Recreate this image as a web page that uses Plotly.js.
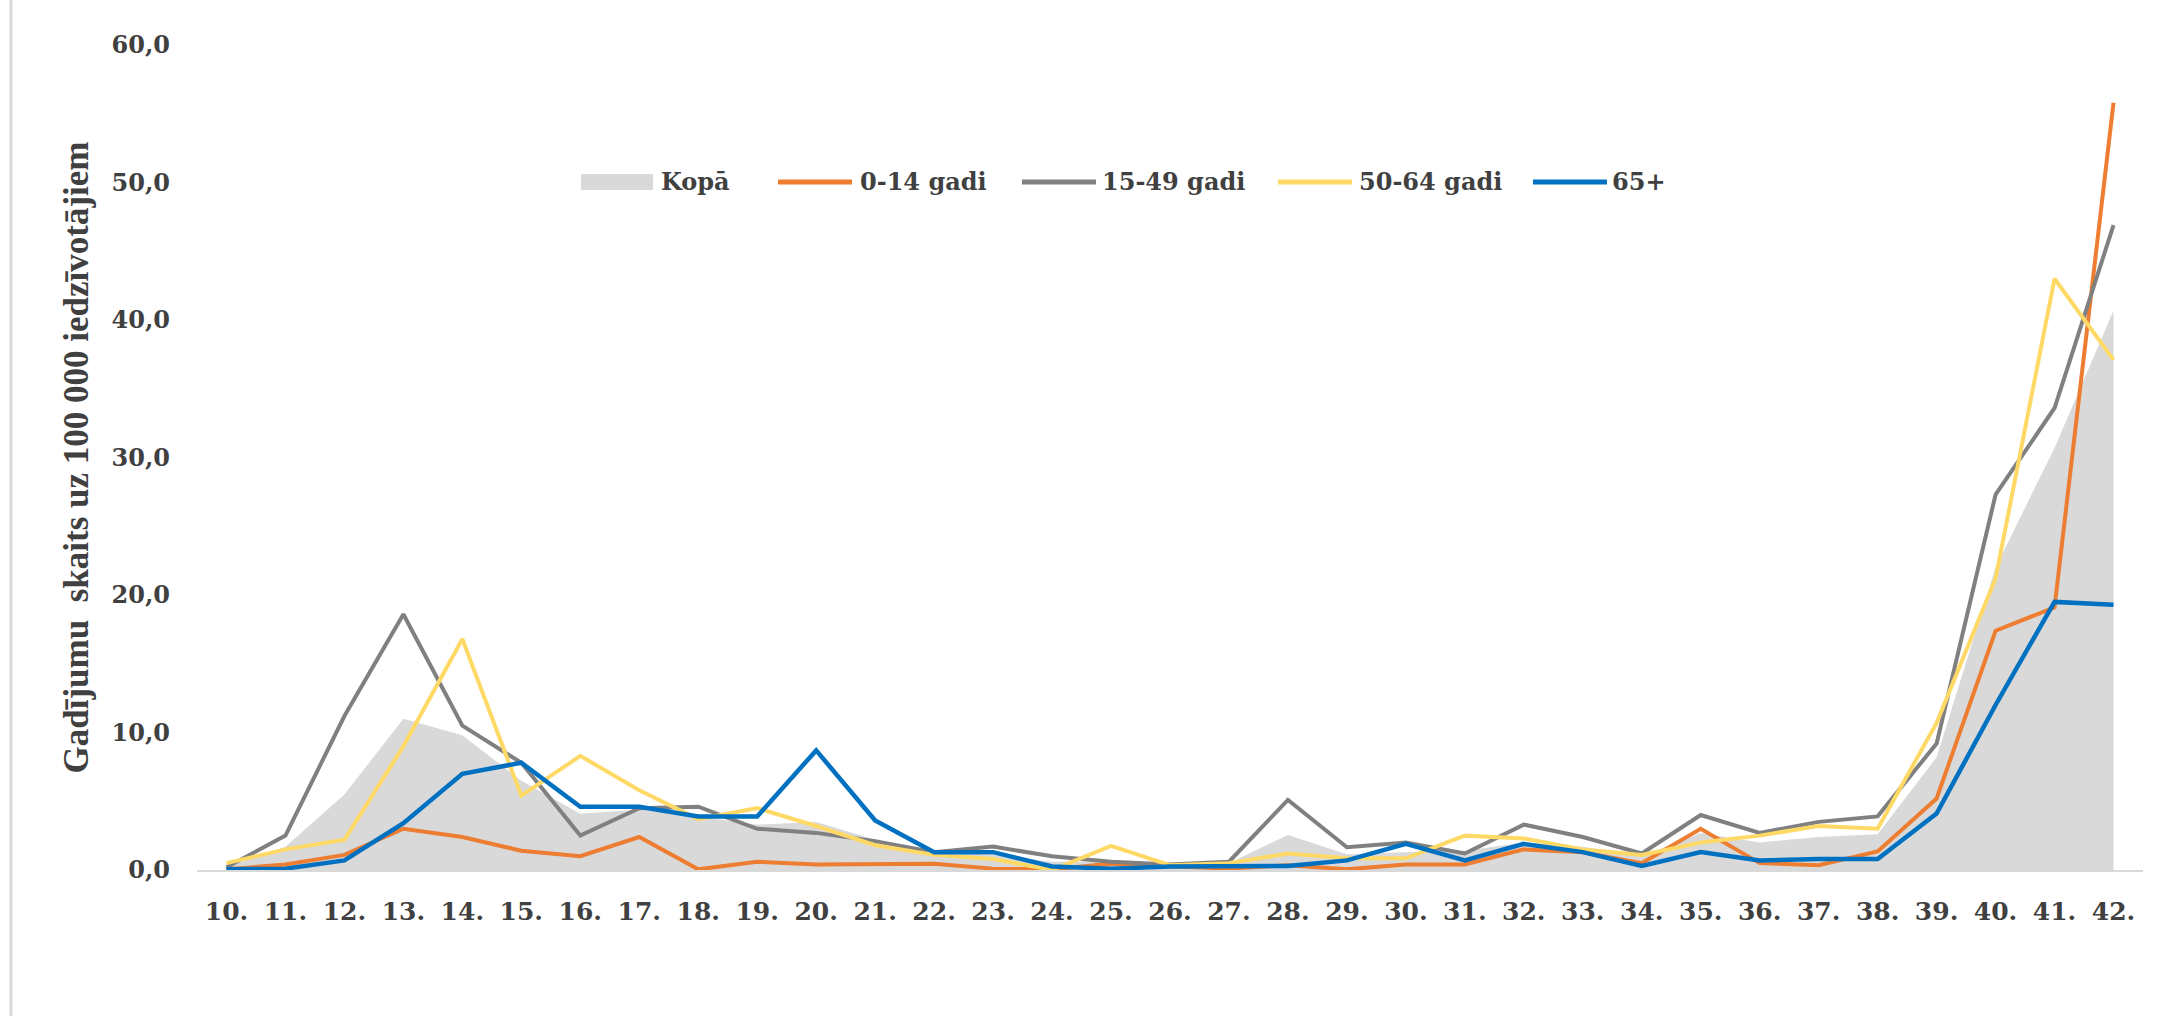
<!DOCTYPE html>
<html>
<head>
<meta charset="utf-8">
<script src="https://cdn.plot.ly/plotly-3.0.1.min.js"></script>
<style>
html,body{margin:0;padding:0;background:#fff;}
#chart{width:2180px;height:1016px;}
</style>
</head>
<body>
<div id="chart"></div>
<script>
// Weeks (categories)
var weeks = ["10.","11.","12.","13.","14.","15.","16.","17.","18.","19.","20.","21.","22.","23.","24.","25.","26.","27.","28.","29.","30.","31.","32.","33.","34.","35.","36.","37.","38.","39.","40.","41.","42."];

// Series values (cases per 100 000 inhabitants)
var kopa     = [0.2,1.7,5.5,11.0,9.8,6.5,4.1,4.4,3.9,3.3,3.5,2.2,1.3,1.1,0.6,0.6,0.35,0.5,2.55,1.15,1.3,1.4,2.0,1.7,1.0,2.7,2.0,2.4,2.6,8.2,22.0,30.7,40.7];
var age0_14  = [0.05,0.4,1.1,3.0,2.4,1.4,1.0,2.4,0.05,0.6,0.4,0.45,0.45,0.1,0.05,0.45,0.25,0.1,0.35,0.05,0.4,0.4,1.5,1.3,0.5,3.0,0.5,0.35,1.35,5.2,17.4,19.1,55.8];
var age15_49 = [0.2,2.5,11.2,18.6,10.5,7.8,2.5,4.5,4.6,3.0,2.7,2.1,1.3,1.7,1.0,0.6,0.4,0.6,5.1,1.65,2.0,1.2,3.3,2.4,1.2,4.0,2.7,3.5,3.9,9.2,27.3,33.6,46.9];
var age50_64 = [0.5,1.5,2.2,9.0,16.8,5.4,8.3,5.8,3.7,4.5,3.2,1.8,1.1,0.8,0.0,1.75,0.35,0.5,1.2,0.85,0.85,2.5,2.3,1.5,1.1,2.0,2.5,3.2,3.0,10.7,21.2,43.0,37.1];
var age65    = [0.05,0.1,0.7,3.4,7.0,7.8,4.6,4.6,3.9,3.9,8.7,3.6,1.3,1.3,0.25,0.1,0.25,0.3,0.3,0.7,1.9,0.7,1.9,1.3,0.3,1.3,0.7,0.8,0.8,4.1,12.0,19.5,19.3];

var seriesNames  = ["Kopā","0-14 gadi","15-49 gadi","50-64 gadi","65+"];
var seriesColors = ["#d9d9d9","#ED7D31","#808080","#FFD966","#0070C0"];
var yTickVals = [0,10,20,30,40,50,60];
var yTitle = "Gadījumu  skaits uz 100 000 iedzīvotājiem";

var serif = "'DejaVu Serif', 'Liberation Serif', serif";
var txtColor = "#404040";

var lineData = [age0_14, age15_49, age50_64, age65];
var lineWidths = [4, 4, 4, 4.5];

var traces = [
  {x: weeks, y: kopa, name: seriesNames[0], type: "scatter", mode: "none",
   fill: "tozeroy", fillcolor: seriesColors[0], showlegend: false}
];
for (var i = 0; i < lineData.length; i++) {
  traces.push({x: weeks, y: lineData[i], name: seriesNames[i + 1], type: "scatter",
               mode: "lines", showlegend: false,
               line: {color: seriesColors[i + 1], width: lineWidths[i]}});
}

var L = 197, R = 37, T = 45, B = 146;
var pw = 2180 - L - R, ph = 1016 - T - B;
function px2paperX(p){ return (p - L) / pw; }
function px2paperY(p){ return (1016 - B - p) / ph; }

// Legend layout (pixel positions of symbol start / text start)
var legSymX  = [581, 778, 1022, 1278, 1533];
var legTextX = [659, 858, 1100, 1357, 1610];
var legY = 182;

var shapes = [
  {type: "line", xref: "paper", yref: "paper",
   x0: px2paperX(11), x1: px2paperX(11), y0: px2paperY(0), y1: px2paperY(1016),
   line: {color: "#d9d9d9", width: 3}},
  {type: "rect", xref: "paper", yref: "paper",
   x0: px2paperX(legSymX[0]), x1: px2paperX(legSymX[0] + 72),
   y0: px2paperY(legY - 8), y1: px2paperY(legY + 8),
   fillcolor: seriesColors[0], line: {width: 0}}
];
var annotations = [];
for (var k = 0; k < seriesNames.length; k++) {
  if (k > 0) {
    shapes.push({type: "line", xref: "paper", yref: "paper",
      x0: px2paperX(legSymX[k]), x1: px2paperX(legSymX[k] + 74),
      y0: px2paperY(legY), y1: px2paperY(legY),
      line: {color: seriesColors[k], width: 5}});
  }
  annotations.push({xref: "paper", yref: "paper",
    x: px2paperX(legTextX[k]), y: px2paperY(legY),
    xanchor: "left", yanchor: "middle", showarrow: false,
    text: seriesNames[k],
    font: {family: serif, size: 24, color: txtColor, weight: "bold"}});
}

var layout = {
  width: 2180, height: 1016,
  margin: {l: L, r: R, t: T, b: B, pad: 0},
  paper_bgcolor: "#ffffff", plot_bgcolor: "#ffffff",
  separators: ", ",
  showlegend: false,
  xaxis: {
    type: "category",
    range: [-0.5, 32.5],
    showline: true, linecolor: "#d9d9d9", linewidth: 2,
    showgrid: false, zeroline: false,
    ticks: "",
    ticklabelstandoff: 18,
    tickfont: {family: serif, size: 25, color: txtColor, weight: "bold"},
    fixedrange: true
  },
  yaxis: {
    range: [0, 60],
    tickvals: yTickVals,
    tickformat: ".1f",
    showline: false, showgrid: false, zeroline: false,
    ticks: "",
    ticklabelstandoff: 26,
    tickfont: {family: serif, size: 24, color: txtColor, weight: "bold"},
    title: {text: yTitle,
            font: {family: "'Liberation Serif', serif", size: 35, color: txtColor, weight: "bold"},
            standoff: 12},
    automargin: false,
    fixedrange: true
  },
  shapes: shapes,
  annotations: annotations
};

Plotly.newPlot("chart", traces, layout, {displayModeBar: false, staticPlot: true});
</script>
</body>
</html>
